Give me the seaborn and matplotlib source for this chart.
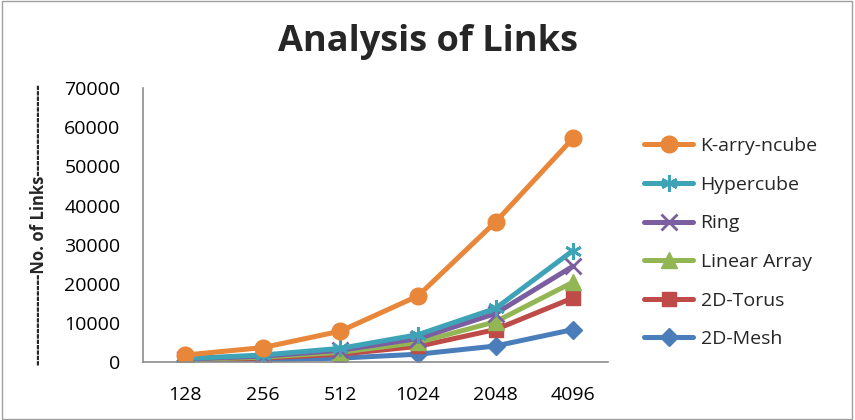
import matplotlib
matplotlib.use("Agg")
import matplotlib.pyplot as plt
import seaborn as sns
import pandas as pd
from matplotlib.patches import Rectangle

categories = ["128", "256", "512", "1024", "2048", "4096"]
series_names = ["K-arry-ncube", "Hypercube", "Ring", "Linear Array", "2D-Torus", "2D-Mesh"]
k_arry_ncube = [1800, 3700, 7900, 16900, 35800, 57200]
hypercube = [900, 1800, 3500, 7000, 13700, 28500]
ring = [770, 1500, 3000, 6000, 12400, 24500]
linear_array = [640, 1250, 2500, 5000, 10300, 20400]
torus_2d = [500, 1000, 2000, 4000, 8300, 16400]
mesh_2d = [250, 500, 1000, 2000, 4100, 8300]
y_ticks = [0, 10000, 20000, 30000, 40000, 50000, 60000, 70000]

values = [k_arry_ncube, hypercube, ring, linear_array, torus_2d, mesh_2d]
colors = ["#E8863A", "#3FA3B8", "#7B5EA0", "#93B655", "#BE4B48", "#4A7EBB"]
markers = ["o", (6, 2, 0), "x", "^", "s", "D"]
msizes = [12, 12, 11, 11, 10, 9]

rows = []
for name, vals in zip(series_names, values):
    for i, v in enumerate(vals):
        rows.append({"series": name, "pos": i, "links": v})
df = pd.DataFrame(rows)

sns.set_theme(style="white")
plt.rcParams["font.family"] = ["Open Sans", "DejaVu Sans"]

fig = plt.figure(figsize=(8.55, 4.2), dpi=100)
ax = fig.add_axes([0.167, 0.138, 0.544, 0.652])

handles = {}
for idx in reversed(range(len(series_names))):
    name = series_names[idx]
    sub = df[df["series"] == name]
    sns.lineplot(data=sub, x="pos", y="links", ax=ax, color=colors[idx],
                 marker=markers[idx], markersize=msizes[idx],
                 markeredgecolor=colors[idx], markerfacecolor=colors[idx],
                 markeredgewidth=2 if idx in (1, 2) else 1,
                 linewidth=3.6, label=name, legend=False)
    handles[name] = ax.lines[-1]

ax.set_xlim(-0.55, 5.45)
ax.set_ylim(0, 70000)
ax.set_xticks(range(len(categories)))
ax.set_xticklabels(categories)
ax.set_yticks(y_ticks)
ax.set_yticklabels([str(t) for t in y_ticks])
ax.tick_params(axis="both", length=0, labelsize=14, colors="#000000")
ax.tick_params(axis="x", pad=17)
ax.tick_params(axis="y", pad=16)
ax.set_xlabel("")
ax.set_ylabel("-----------------No. of Links-----------------", fontsize=12,
              fontweight="bold", labelpad=12)
for s in ["top", "right"]:
    ax.spines[s].set_visible(False)
for s in ["left", "bottom"]:
    ax.spines[s].set_color("#8C8C8C")
    ax.spines[s].set_linewidth(1.2)
ax.grid(False)

fig.text(0.5, 0.9, "Analysis of Links", ha="center", va="center",
         fontsize=26, fontweight="bold")

leg = fig.legend([handles[n] for n in series_names], series_names,
                 loc="upper left", bbox_to_anchor=(0.733, 0.715), frameon=False,
                 fontsize=14, labelspacing=1.06, handlelength=2.5, handletextpad=0.4)

fig.patches.append(Rectangle((0.002, 0.003), 0.995, 0.994, transform=fig.transFigure,
                             fill=False, edgecolor="#A0A0A0", linewidth=1))

fig.savefig("out.png", dpi=100)
